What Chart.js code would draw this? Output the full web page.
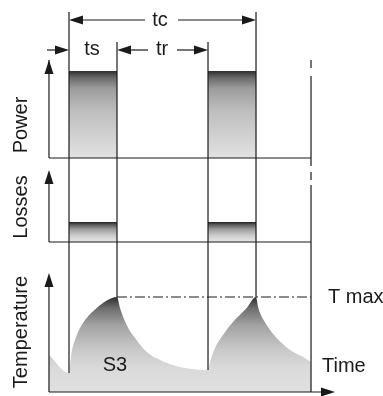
<!DOCTYPE html>
<html lang="en">
<head>
  <meta charset="UTF-8" />
  <title>S3 duty cycle</title>
  <style>
    body { margin: 0; padding: 0; background: #fff; }
    #wrap { width: 383px; height: 396px; position: relative; }
  </style>
  <script src="https://cdn.jsdelivr.net/npm/chart.js"></script>
</head>
<body>
  <div id="wrap"><canvas id="chart"></canvas></div>

  <script>
    // time is measured in units of ts (the on time); first pulse starts at 0
    const axisStart = -0.417;
    const cycleEnd = 5.042;
    const onTime = 1;
    const cycleTime = 2.896;   // tc start of second pulse
    const tMax = 1;

    // power and losses pulses (step shape)
    const pulseT = [0, 0, 1, 1, 2.896, 2.896, 3.896, 3.896];
    const powerV = [0, 1, 1, 0, 0, 1, 1, 0];
    const lossV  = [0, 1, 1, 0, 0, 1, 1, 0];

    // temperature curve (1 = T max)
    const tempT = [-0.417, 0, 0.021, 0.056, 0.125, 0.229, 0.369, 0.577, 0.77, 1,
                   1.0625, 1.202, 1.375, 1.619, 1.896, 2.244, 2.52, 2.896,
                   2.9375, 3.042, 3.208, 3.417, 3.702, 3.896,
                   3.944, 4.119, 4.327, 4.604, 4.875, 5.042];
    const tempV = [0.389, 0.2, 0.284, 0.421, 0.547, 0.674, 0.779, 0.884, 0.958, 1,
                   0.884, 0.705, 0.568, 0.421, 0.337, 0.27, 0.245, 0.232,
                   0.316, 0.463, 0.6, 0.737, 0.884, 1,
                   0.884, 0.705, 0.568, 0.442, 0.368, 0.316];

    const FONT = '20px "Liberation Sans", Arial, sans-serif';
    const INK = '#1a1a1a';

    function pts(xs, ys) {
      return xs.map((x, i) => ({ x: x, y: ys[i] }));
    }

    function vGradient(scaleId, stops) {
      return function (ctx) {
        const chart = ctx.chart;
        if (!chart.chartArea) return '#ddd';
        const s = chart.scales[scaleId];
        const top = s.getPixelForValue(1);
        const bot = s.getPixelForValue(0);
        const g = chart.ctx.createLinearGradient(0, top, 0, bot);
        stops.forEach(st => g.addColorStop(st[0], st[1]));
        return g;
      };
    }

    function arrowHead(c, x, y, dir) {
      const len = 14, hw = 4.5;
      c.beginPath();
      c.moveTo(x, y);
      if (dir === 'up') { c.lineTo(x - hw, y + len); c.lineTo(x + hw, y + len); }
      if (dir === 'right') { c.lineTo(x - len, y - hw); c.lineTo(x - len, y + hw); }
      if (dir === 'left') { c.lineTo(x + len, y - hw); c.lineTo(x + len, y + hw); }
      c.closePath();
      c.fill();
    }

    function line(c, x1, y1, x2, y2) {
      c.beginPath();
      c.moveTo(x1, y1);
      c.lineTo(x2, y2);
      c.stroke();
    }

    // tempV at a given time from the table (exact table points only)
    function tempAt(t) {
      const i = tempT.indexOf(t);
      return i >= 0 ? tempV[i] : 0;
    }

    const decorations = {
      id: 'decorations',
      afterDatasetsDraw(chart) {
        const c = chart.ctx;
        const X = chart.scales.x, P = chart.scales.yPower,
              L = chart.scales.yLoss, T = chart.scales.yTemp;
        const x0 = X.getPixelForValue(axisStart);
        const xs1 = X.getPixelForValue(0);
        const xe1 = X.getPixelForValue(onTime);
        const xs2 = X.getPixelForValue(cycleTime);
        const xe2 = X.getPixelForValue(cycleTime + onTime);
        const xEnd = X.getPixelForValue(cycleEnd);
        const pBase = P.getPixelForValue(0), pTop = P.getPixelForValue(1);
        const lBase = L.getPixelForValue(0);
        const tBase = T.getPixelForValue(0), tTop = T.getPixelForValue(tMax);
        const dimTop = 12, dimMid = 42, yTc = 20, yTs = 50;

        c.save();
        c.strokeStyle = INK;
        c.fillStyle = INK;
        c.lineWidth = 1.2;

        // axes
        line(c, x0, pBase, x0, pTop - 11);
        arrowHead(c, x0, pTop - 11, 'up');
        line(c, x0, pBase, xEnd, pBase);
        line(c, x0, lBase, x0, lBase - 58);
        arrowHead(c, x0, lBase - 72, 'up');
        line(c, x0, lBase, xEnd, lBase);
        line(c, x0, tBase, x0, tBase - 105);
        arrowHead(c, x0, tBase - 119, 'up');
        line(c, x0, tBase, xEnd + 12, tBase);
        arrowHead(c, xEnd + 24, tBase, 'right');

        // pulse edges running down to the temperature curve
        line(c, xs1, dimTop, xs1, T.getPixelForValue(tempAt(0)));
        line(c, xe1, dimMid, xe1, tTop);
        line(c, xs2, dimMid, xs2, T.getPixelForValue(tempAt(cycleTime)));
        line(c, xe2, dimTop, xe2, tTop);

        // right end of the diagram, dash-dot at the top
        c.setLineDash([8, 8, 90, 6, 8, 5, 1000]);
        line(c, xEnd, pTop - 11, xEnd, tBase);
        // T max line
        c.setLineDash([10, 3, 2, 3]);
        line(c, xe1, tTop, xEnd, tTop);
        c.setLineDash([]);

        // tc dimension
        line(c, xs1 + 10, yTc, 145, yTc);
        line(c, 178, yTc, xe2 - 10, yTc);
        arrowHead(c, xs1, yTc, 'left');
        arrowHead(c, xe2, yTc, 'right');
        // ts dimension
        line(c, x0 - 2, yTs, xs1 - 10, yTs);
        arrowHead(c, xs1, yTs, 'right');
        // tr dimension
        line(c, xe1 + 10, yTs, 148, yTs);
        line(c, 177, yTs, xs2 - 10, yTs);
        arrowHead(c, xe1, yTs, 'left');
        arrowHead(c, xs2, yTs, 'right');

        // texts
        c.font = FONT;
        c.textBaseline = 'middle';
        c.textAlign = 'center';
        c.fillText('tc', 160, yTc);
        c.fillText('ts', 92, yTs - 1);
        c.fillText('tr', 162, yTs - 1);
        c.fillText('S3', 115, 365);
        c.textAlign = 'left';
        c.fillText('T max', 328, tTop);
        c.fillText('Time', 322, 366);

        const side = [['Power', 125], ['Losses', 207], ['Temperature', 332]];
        side.forEach(s => {
          c.save();
          c.translate(21, s[1]);
          c.rotate(-Math.PI / 2);
          c.textAlign = 'center';
          c.fillText(s[0], 0, 0);
          c.restore();
        });
        c.restore();
      }
    };

    new Chart(document.getElementById('chart'), {
      type: 'scatter',
      data: {
        datasets: [
          {
            data: pts(pulseT, powerV),
            yAxisID: 'yPower',
            showLine: true,
            borderWidth: 0,
            pointRadius: 0,
            tension: 0,
            fill: 'origin',
            backgroundColor: vGradient('yPower',
              [[0, '#2e2e2e'], [0.08, '#6a6a6a'], [0.2, '#9c9c9c'], [0.45, '#bdbdbd'], [1, '#e2e2e2']])
          },
          {
            data: pts(pulseT, lossV),
            yAxisID: 'yLoss',
            showLine: true,
            borderWidth: 0,
            pointRadius: 0,
            tension: 0,
            fill: 'origin',
            backgroundColor: vGradient('yLoss',
              [[0, '#1e1e1e'], [0.12, '#555'], [0.35, '#9a9a9a'], [0.7, '#cfcfcf'], [1, '#e6e6e6']])
          },
          {
            data: pts(tempT, tempV),
            yAxisID: 'yTemp',
            showLine: true,
            borderWidth: 0,
            pointRadius: 0,
            cubicInterpolationMode: 'monotone',
            fill: 'origin',
            backgroundColor: vGradient('yTemp',
              [[0, '#2e2e2e'], [0.12, '#6e6e6e'], [0.3, '#a3a3a3'], [0.55, '#c8c8c8'], [0.75, '#dadada'], [1, '#e0e0e0']])
          }
        ]
      },
      options: {
        responsive: true,
        maintainAspectRatio: false,
        animation: false,
        layout: { padding: 0 },
        plugins: { legend: { display: false }, tooltip: { enabled: false } },
        scales: {
          x: { type: 'linear', display: false, min: -1.4375, max: 6.5417 },
          yPower: { type: 'linear', display: false, min: -2.7356, max: 1.8161 },
          yLoss: { type: 'linear', display: false, min: -7.7, max: 12.1 },
          yTemp: { type: 'linear', display: false, min: -0.0421, max: 4.1263 }
        }
      },
      plugins: [decorations]
    });
  </script>
</body>
</html>
